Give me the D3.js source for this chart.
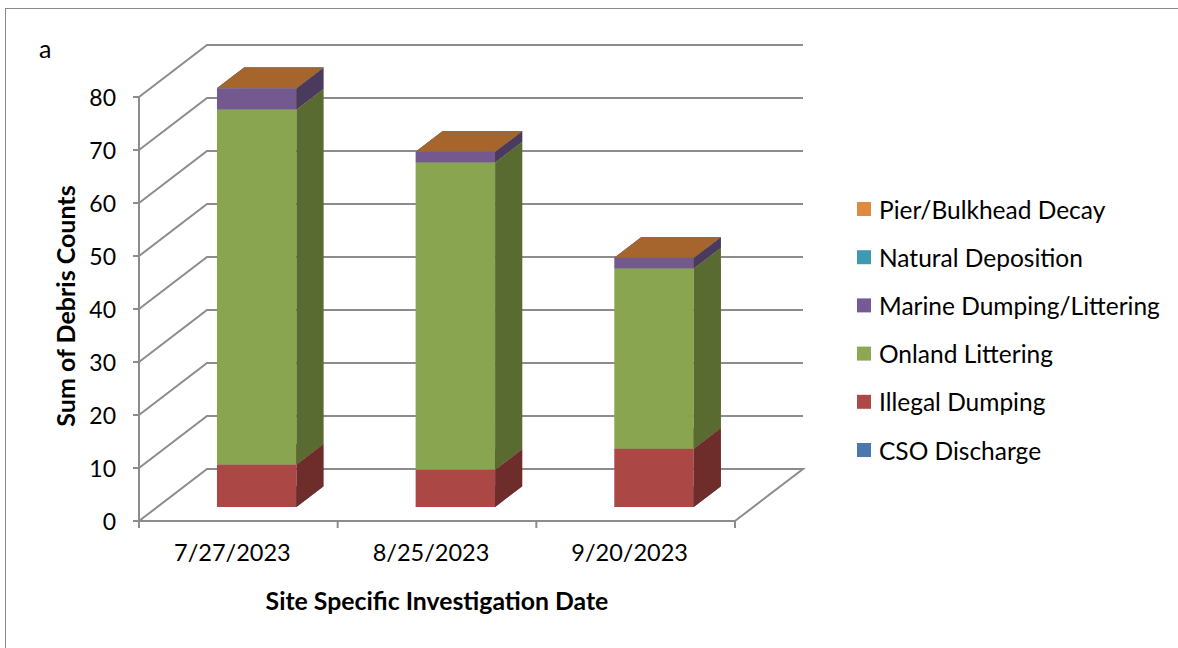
<!DOCTYPE html>
<html>
<head>
<meta charset="utf-8">
<script src="https://cdn.jsdelivr.net/npm/d3@7"></script>
<style>
  body { margin: 0; background: #fff; }
  svg { display: block; }
  text { font-family: Lato, "Open Sans", sans-serif; fill: #000; }
</style>
</head>
<body>
<svg id="chart" width="1178" height="648"></svg>
<script>
// Investigation dates (categories)
const categories = ["7/27/2023", "8/25/2023", "9/20/2023"];

// Debris counts per source, listed in stacking order (bottom to top)
const csoDischarge      = [0, 0, 0];
const illegalDumping    = [8, 7, 11];
const onlandLittering   = [67, 58, 34];
const marineDumping     = [4, 2, 2];
const naturalDeposition = [0, 0, 0];
const pierDecay         = [0, 0, 0];

const seriesNames = ["CSO Discharge", "Illegal Dumping", "Onland Littering",
                     "Marine Dumping/Littering", "Natural Deposition", "Pier/Bulkhead Decay"];
const seriesValues = [csoDischarge, illegalDumping, onlandLittering,
                      marineDumping, naturalDeposition, pierDecay];

const yTicks = [0, 10, 20, 30, 40, 50, 60, 70, 80];

// Shaded face colours for each series: front, side, top, legend swatch
const faceFront  = ["#4A76AC", "#AB4744", "#8AA54F", "#745890", "#3E9AB3", "#D7823C"];
const faceSide   = ["#2F4D72", "#6E2C2A", "#5A6B32", "#4A3A5E", "#28667A", "#8E5426"];
const faceTop    = ["#3C6290", "#8E3A38", "#728A41", "#5F4877", "#337F95", "#A7652E"];
const swatch     = ["#4A78AF", "#AE4846", "#8CA852", "#765A95", "#3E9AB3", "#DF8A41"];

const svg = d3.select("#chart");

// Outer chart border
svg.append("rect")
  .attr("x", 5.5).attr("y", 8.5)
  .attr("width", 1300).attr("height", 800)
  .attr("fill", "none").attr("stroke", "#8a8a8a").attr("stroke-width", 1);

// Front plane scales plus an oblique depth offset
const x = d3.scaleBand().domain(categories).range([139, 735])
  .paddingInner(0.6).paddingOuter(0.3);
const y = d3.scaleLinear().domain([0, 80]).range([521, 97]);
const depthX = 68, depthY = -52;
const barFrontT = 0.27, barDepthT = 0.4;

// Walls, floor and gridlines
const gridColor = "#8c8c8c";
const grid = svg.append("g").attr("fill", "none").attr("stroke", gridColor).attr("stroke-width", 2);
const [x0, x1] = x.range();
yTicks.forEach(v => {
  const p = d3.path();
  p.moveTo(x0, y(v));
  p.lineTo(x0 + depthX, y(v) + depthY);
  p.lineTo(x1 + depthX, y(v) + depthY);
  if (v === 0) p.lineTo(x1, y(0));
  grid.append("path").attr("d", p.toString());
});

// Value axis (front left edge)
grid.append("line").attr("x1", x0).attr("x2", x0).attr("y1", y(0)).attr("y2", y(80));
yTicks.forEach(v => {
  grid.append("line").attr("x1", x0 - 6).attr("x2", x0).attr("y1", y(v)).attr("y2", y(v));
});
svg.append("g").selectAll("text").data(yTicks).join("text")
  .attr("x", 116).attr("y", d => y(d))
  .attr("text-anchor", "end").attr("dominant-baseline", "central")
  .style("font-size", "23px")
  .text(d => d);

// Category axis (front floor edge)
grid.append("line").attr("x1", x0).attr("x2", x1).attr("y1", y(0)).attr("y2", y(0));
const step = x.step();
d3.range(categories.length + 1).forEach(i => {
  const tx = x0 + i * step;
  grid.append("line").attr("x1", tx).attr("x2", tx).attr("y1", y(0)).attr("y2", y(0) + 7);
});
svg.append("g").selectAll("text").data(categories).join("text")
  .attr("x", d => x(d) + x.bandwidth() / 2 - 6)
  .attr("y", 561)
  .attr("text-anchor", "middle")
  .style("font-size", "23.5px")
  .text(d => d);

// Stacked 3D columns
const table = categories.map((c, i) => {
  const row = { category: c };
  seriesNames.forEach((s, k) => row[s] = seriesValues[k][i]);
  return row;
});
const stacked = d3.stack().keys(seriesNames)(table);

const bars = svg.append("g");
const fx = barFrontT * depthX, fy = barFrontT * depthY;
const bx = barDepthT * depthX, by = barDepthT * depthY;
categories.forEach((c, i) => {
  const left = x(c) + fx, right = x(c) + x.bandwidth() + fx;
  stacked.forEach((layer, k) => {
    const [v0, v1] = layer[i];
    const yb = y(v0) + fy, yt = y(v1) + fy;
    // front face
    bars.append("path")
      .attr("d", `M${left},${yb}L${right},${yb}L${right},${yt}L${left},${yt}Z`)
      .attr("fill", faceFront[k]);
    // right side face
    bars.append("path")
      .attr("d", `M${right},${yb}L${right + bx},${yb + by}L${right + bx},${yt + by}L${right},${yt}Z`)
      .attr("fill", faceSide[k]);
    // top face
    bars.append("path")
      .attr("d", `M${left},${yt}L${right},${yt}L${right + bx},${yt + by}L${left + bx},${yt + by}Z`)
      .attr("fill", faceTop[k]);
  });
});

// Axis titles and panel letter
svg.append("text")
  .attr("transform", "translate(65,306) rotate(-90)")
  .attr("text-anchor", "middle").attr("dominant-baseline", "central")
  .style("font-size", "25px").style("font-weight", "bold")
  .text("Sum of Debris Counts");
svg.append("text")
  .attr("x", 437).attr("y", 610)
  .attr("text-anchor", "middle")
  .style("font-size", "24.8px").style("font-weight", "bold")
  .text("Site Specific Investigation Date");
svg.append("text")
  .attr("x", 39).attr("y", 58)
  .style("font-size", "25px")
  .text("a");

// Legend, topmost series first
const legendOrder = d3.range(seriesNames.length).reverse();
const legend = svg.append("g");
legendOrder.forEach((k, j) => {
  const cy = 209 + j * 48.2;
  legend.append("rect")
    .attr("x", 857).attr("y", cy - 7).attr("width", 14).attr("height", 14)
    .attr("fill", swatch[k]);
  legend.append("text")
    .attr("x", 879).attr("y", cy)
    .attr("dominant-baseline", "central")
    .style("font-size", "24.5px")
    .text(seriesNames[k]);
});
</script>
</body>
</html>
